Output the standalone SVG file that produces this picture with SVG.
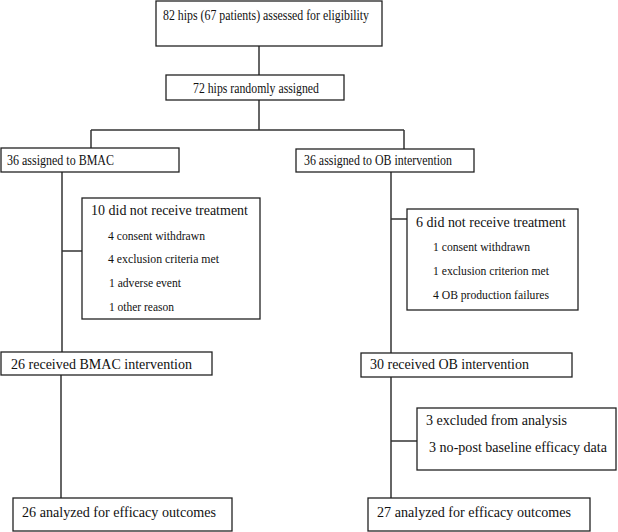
<svg xmlns="http://www.w3.org/2000/svg" width="618" height="532" viewBox="0 0 618 532">
<style>
rect{fill:#fff;stroke:#222;stroke-width:1.3}
.c line{stroke:#333;stroke-width:1.5}
text{font-family:"Liberation Serif","Times New Roman",serif;fill:#111}
.m{font-size:15px}
.s{font-size:13px}
</style>
<rect x="0" y="0" width="618" height="532" style="stroke:none"/>
<g class="c">
<line x1="259" y1="46" x2="259" y2="75"/>
<line x1="259" y1="100" x2="259" y2="130"/>
<line x1="91" y1="130" x2="404" y2="130"/>
<line x1="91" y1="130" x2="91" y2="148"/>
<line x1="404" y1="130" x2="404" y2="149"/>
<line x1="62" y1="172" x2="62" y2="352"/>
<line x1="62" y1="251" x2="82" y2="251"/>
<line x1="391" y1="172" x2="391" y2="353"/>
<line x1="391" y1="219" x2="407" y2="219"/>
<line x1="61" y1="375" x2="61" y2="498"/>
<line x1="391" y1="377" x2="391" y2="498"/>
<line x1="391" y1="441" x2="417" y2="441"/>
</g>
<g id="n1"><rect x="156" y="1" width="226" height="45"/><text class="m" x="163" y="20" textLength="206" lengthAdjust="spacingAndGlyphs">82 hips (67 patients) assessed for eligibility</text></g>
<g id="n2"><rect x="166" y="75" width="178" height="25"/><text class="m" x="193" y="93" textLength="126" lengthAdjust="spacingAndGlyphs">72 hips randomly assigned</text></g>
<g id="n3"><rect x="1" y="148" width="178" height="24"/><text class="m" x="7" y="165" textLength="107" lengthAdjust="spacingAndGlyphs">36 assigned to BMAC</text></g>
<g id="n4"><rect x="296" y="149" width="178" height="23"/><text class="m" x="304" y="165" textLength="148" lengthAdjust="spacingAndGlyphs">36 assigned to OB intervention</text></g>
<g id="n5"><rect x="82" y="198" width="178" height="121"/>
<text class="m" x="91" y="215" textLength="157" lengthAdjust="spacingAndGlyphs">10 did not receive treatment</text>
<text class="s" x="108" y="240" textLength="97" lengthAdjust="spacingAndGlyphs">4 consent withdrawn</text>
<text class="s" x="108" y="263" textLength="111" lengthAdjust="spacingAndGlyphs">4 exclusion criteria met</text>
<text class="s" x="109" y="287" textLength="72" lengthAdjust="spacingAndGlyphs">1 adverse event</text>
<text class="s" x="109" y="311" textLength="65" lengthAdjust="spacingAndGlyphs">1 other reason</text></g>
<g id="n6"><rect x="407" y="209" width="171" height="101"/>
<text class="m" x="416" y="227" textLength="150" lengthAdjust="spacingAndGlyphs">6 did not receive treatment</text>
<text class="s" x="433" y="251" textLength="97" lengthAdjust="spacingAndGlyphs">1 consent withdrawn</text>
<text class="s" x="433" y="275" textLength="116" lengthAdjust="spacingAndGlyphs">1 exclusion criterion met</text>
<text class="s" x="433" y="299" textLength="116" lengthAdjust="spacingAndGlyphs">4 OB production failures</text></g>
<g id="n7"><rect x="1" y="352" width="211" height="23"/><text class="m" x="11" y="369" textLength="181" lengthAdjust="spacingAndGlyphs">26 received BMAC intervention</text></g>
<g id="n8"><rect x="361" y="353" width="211" height="24"/><text class="m" x="370" y="369" textLength="159" lengthAdjust="spacingAndGlyphs">30 received OB intervention</text></g>
<g id="n9"><rect x="417" y="408" width="199" height="62"/>
<text class="m" x="426" y="425" textLength="141" lengthAdjust="spacingAndGlyphs">3 excluded from analysis</text>
<text class="m" x="429" y="452" textLength="178" lengthAdjust="spacingAndGlyphs">3 no-post baseline efficacy data</text></g>
<g id="n10"><rect x="13" y="498" width="219" height="33"/><text class="m" x="22" y="517" textLength="194" lengthAdjust="spacingAndGlyphs">26 analyzed for efficacy outcomes</text></g>
<g id="n11"><rect x="368" y="498" width="222" height="33"/><text class="m" x="377" y="517" textLength="194" lengthAdjust="spacingAndGlyphs">27 analyzed for efficacy outcomes</text></g>
</svg>
